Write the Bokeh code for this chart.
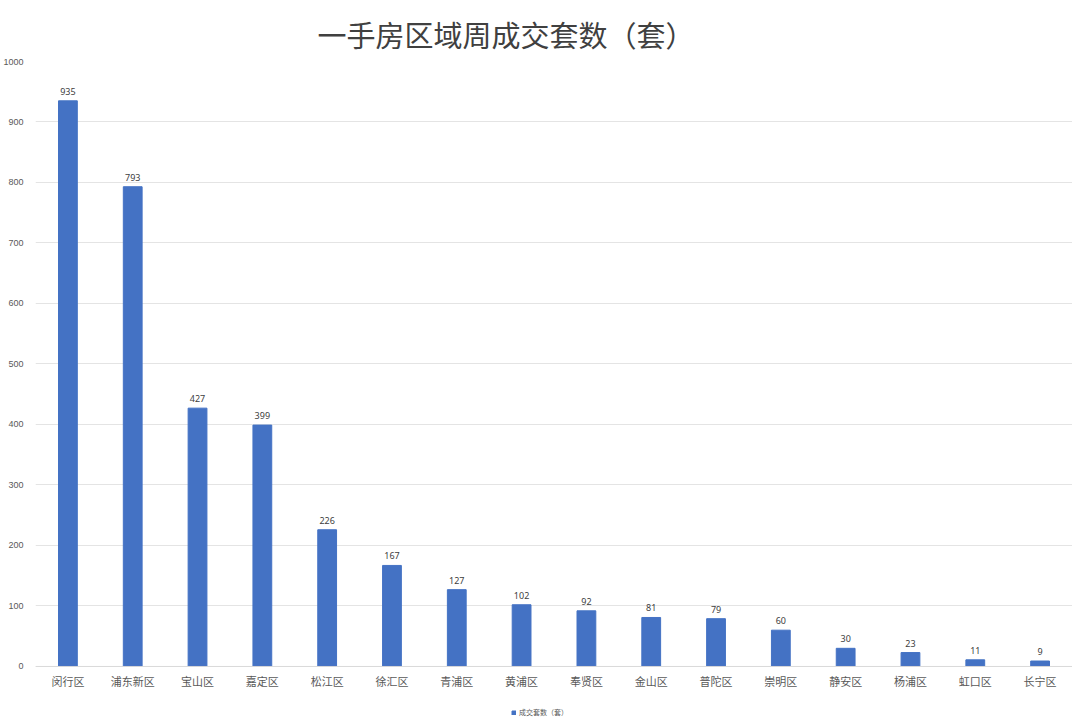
from bokeh.plotting import figure
from bokeh.models import ColumnDataSource, Legend, LegendItem, LabelSet, FixedTicker, Title, Span
from bokeh.core.properties import value
from bokeh.embed import file_html
from bokeh.resources import INLINE

districts = ["闵行区", "浦东新区", "宝山区", "嘉定区", "松江区", "徐汇区", "青浦区", "黄浦区",
             "奉贤区", "金山区", "普陀区", "崇明区", "静安区", "杨浦区", "虹口区", "长宁区"]
counts = [935, 793, 427, 399, 226, 167, 127, 102, 92, 81, 79, 60, 30, 23, 11, 9]
y_ticks = [0, 100, 200, 300, 400, 500, 600, 700, 800, 900, 1000]
series_name = "成交套数（套）"
title_text = "一手房区域周成交套数（套）"

src = ColumnDataSource(dict(x=districts, y=counts, lbl=[str(c) for c in counts],
                            base=[0] * len(districts)))

# the frame extends below zero so the category labels and legend can live inside it
p = figure(x_range=districts, y_range=(-86, 1000), width=1072, height=720,
           output_backend="svg", toolbar_location=None,
           min_border_left=35, min_border_right=0, min_border_top=61, min_border_bottom=2)
p.title = None
t = Title(text=title_text, text_font="Noto Sans CJK SC", text_font_size="29px",
          text_font_style="normal", text_color="#404040", align="left", offset=282,
          standoff=14)
p.add_layout(t, "above")

r = p.vbar(x="x", top="y", bottom="base", width=0.29, source=src, color="#4472C4")

labels = LabelSet(x="x", y="y", text="lbl", source=src, text_align="center",
                  text_baseline="bottom", y_offset=6, text_font_size=value("9px"),
                  text_color=value("#404040"), text_font=value("Noto Sans"))
p.add_layout(labels)

cat_labels = LabelSet(x="x", y="base", text="x", source=src, text_align="center",
                      text_baseline="middle", y_offset=-15, text_font_size=value("11px"),
                      text_color=value("#595959"), text_font=value("Noto Sans CJK SC"))
p.add_layout(cat_labels)

p.add_layout(Span(location=0, dimension="width", line_color="#d9d9d9", line_width=1))

p.outline_line_color = None
p.xgrid.grid_line_color = None
p.xaxis.visible = False
p.ygrid.grid_line_color = "#e4e4e4"
p.yaxis.ticker = FixedTicker(ticks=y_ticks)
p.yaxis.axis_line_color = None
p.yaxis.major_tick_line_color = None
p.yaxis.minor_tick_line_color = None
p.yaxis.major_label_text_font_size = "9px"
p.yaxis.major_label_text_color = "#595959"
p.yaxis.major_label_standoff = 6

legend = Legend(items=[LegendItem(label=series_name, renderers=[r])],
                location=(476, 1), orientation="horizontal",
                label_text_font_size="7px", label_text_color="#595959",
                label_text_font="Noto Sans CJK SC",
                glyph_width=5, glyph_height=5, label_standoff=3,
                border_line_color=None, background_fill_alpha=0,
                padding=2, margin=0, label_height=8)
p.add_layout(legend)

open("out.html", "w").write(file_html(p, INLINE))
